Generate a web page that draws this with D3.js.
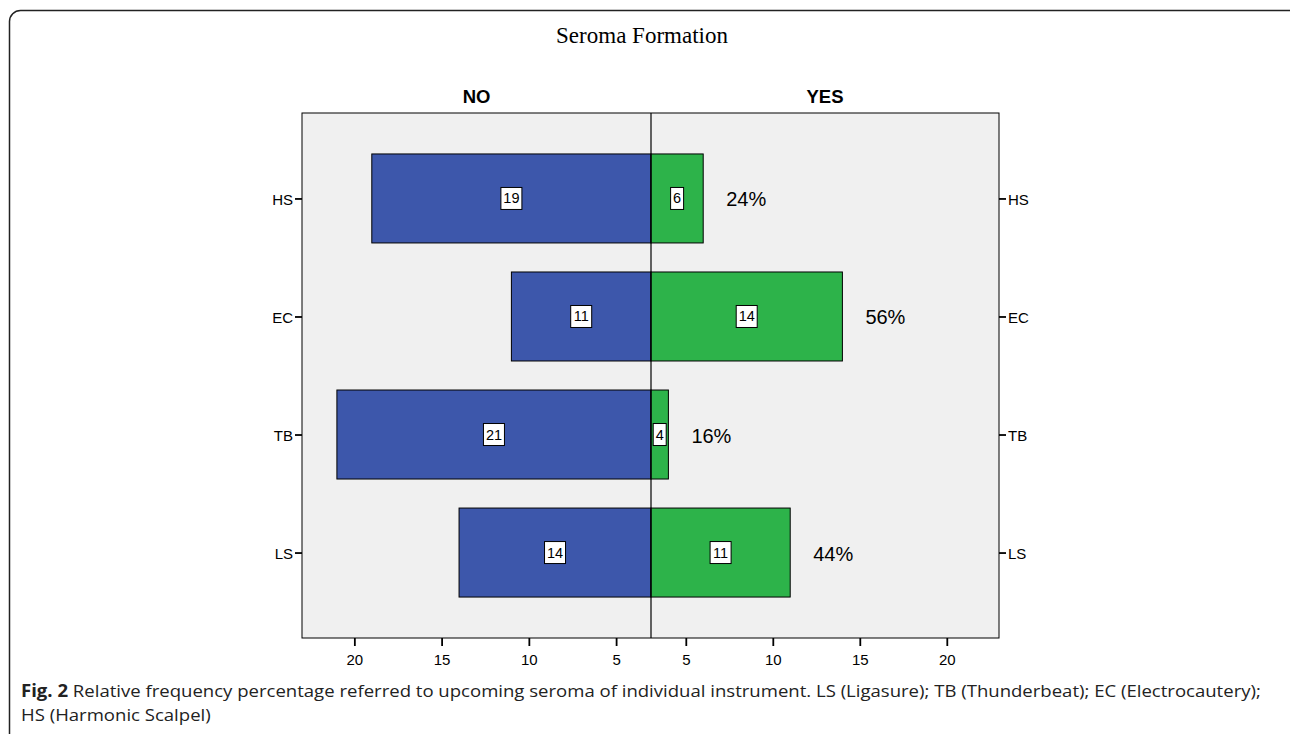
<!DOCTYPE html>
<html><head><meta charset="utf-8">
<script src="https://cdn.jsdelivr.net/npm/d3@7"></script>
<style>html,body{margin:0;padding:0;background:#fff;overflow:hidden}</style>
</head><body>
<svg id="c" width="1290" height="734"></svg>
<script>
const categories = ["HS", "EC", "TB", "LS"];
const noValues = [19, 11, 21, 14];
const yesValues = [6, 14, 4, 11];
const pctLabels = ["24%", "56%", "16%", "44%"];
const tickValues = [5, 10, 15, 20];
const groupLabels = ["NO", "YES"];
const title = "Seroma Formation";
const captionBold = "Fig. 2";
const captionLine1 = " Relative frequency percentage referred to upcoming seroma of individual instrument. LS (Ligasure); TB (Thunderbeat); EC (Electrocautery);";
const captionLine2 = "HS (Harmonic Scalpel)";

const svg = d3.select("#c");
const blue = "#3d57ab", green = "#2db34a";

// outer frame
svg.append("rect").attr("x", 9.5).attr("y", 10.5).attr("width", 1300).attr("height", 760)
  .attr("rx", 11).attr("fill", "none").attr("stroke", "#222").attr("stroke-width", 1.5);

const plotL = 302, plotR = 999, plotT = 113, plotB = 638, mid = 651;

const xL = d3.scaleLinear().domain([3, 23]).range([mid, plotL]);
const xR = d3.scaleLinear().domain([3, 23]).range([mid, plotR]);
const y = d3.scaleBand().domain(categories).range([plotT, plotB]).paddingInner(0.246).paddingOuter(0.347);

svg.append("text").attr("x", 642).attr("y", 43).attr("text-anchor", "middle")
  .attr("font-family", "Liberation Serif, Times New Roman, serif").attr("font-size", 23).text(title);

svg.append("rect").attr("x", plotL).attr("y", plotT).attr("width", plotR - plotL).attr("height", plotB - plotT)
  .attr("fill", "#f0f0f0").attr("stroke", "#000").attr("stroke-width", 1);

svg.selectAll(".grp").data(groupLabels).join("text")
  .attr("x", (d, i) => i === 0 ? (plotL + mid) / 2 : (mid + plotR) / 2)
  .attr("y", 103).attr("text-anchor", "middle")
  .attr("font-family", "Liberation Sans, Arial, sans-serif").attr("font-weight", "bold").attr("font-size", 18.5)
  .text(d => d);

const rows = categories.map((c, i) => ({c, no: noValues[i], yes: yesValues[i], pct: pctLabels[i]}));

svg.selectAll(".barNo").data(rows).join("rect")
  .attr("x", d => xL(d.no)).attr("y", d => y(d.c))
  .attr("width", d => xL(3) - xL(d.no)).attr("height", y.bandwidth())
  .attr("fill", blue).attr("stroke", "#000").attr("stroke-width", 1);
svg.selectAll(".barYes").data(rows).join("rect")
  .attr("x", xR(3)).attr("y", d => y(d.c))
  .attr("width", d => xR(d.yes) - xR(3)).attr("height", y.bandwidth())
  .attr("fill", green).attr("stroke", "#000").attr("stroke-width", 1);

// center line
svg.append("line").attr("x1", mid).attr("x2", mid).attr("y1", plotT).attr("y2", plotB)
  .attr("stroke", "#000").attr("stroke-width", 1.2);

function valueBox(cx, cy, txt) {
  const w = txt.length > 1 ? 21 : 13;
  svg.append("rect").attr("x", cx - w / 2).attr("y", cy - 11).attr("width", w).attr("height", 22)
    .attr("fill", "#fff").attr("stroke", "#000").attr("stroke-width", 1);
  svg.append("text").attr("x", cx).attr("y", cy + 5).attr("text-anchor", "middle")
    .attr("font-family", "Liberation Sans, Arial, sans-serif").attr("font-size", 14.5).text(txt);
}
rows.forEach(d => {
  const cy = y(d.c) + y.bandwidth() / 2;
  valueBox((xL(d.no) + xL(3)) / 2, cy, String(d.no));
  valueBox((xR(d.yes) + xR(3)) / 2, cy, String(d.yes));
});

svg.selectAll(".pct").data(rows).join("text")
  .attr("x", d => xR(d.yes) + 43).attr("y", d => y(d.c) + y.bandwidth() / 2 + 8)
  .attr("text-anchor", "middle")
  .attr("font-family", "Liberation Sans, Arial, sans-serif").attr("font-size", 20).text(d => d.pct);

const font = "Liberation Sans, Arial, sans-serif";
// Y axes
const yPts = d3.scalePoint().domain(categories).range([y(categories[0]) + y.bandwidth() / 2, y(categories[3]) + y.bandwidth() / 2]);
const yl = svg.append("g").attr("transform", `translate(${plotL},0)`)
  .call(d3.axisLeft(yPts).tickSize(7).tickPadding(2));
const yr = svg.append("g").attr("transform", `translate(${plotR},0)`)
  .call(d3.axisRight(yPts).tickSize(7).tickPadding(2));
[yl, yr].forEach(g => {
  g.select(".domain").remove();
  g.selectAll("line").attr("stroke", "#000").attr("stroke-width", 1.8);
  g.selectAll("text").attr("font-family", font).attr("font-size", 15).attr("fill", "#000").attr("dy", "0.4em");
});

// X axes
const xa1 = svg.append("g").attr("transform", `translate(0,${plotB})`)
  .call(d3.axisBottom(xL).tickValues(tickValues).tickSize(8).tickPadding(8));
const xa2 = svg.append("g").attr("transform", `translate(0,${plotB})`)
  .call(d3.axisBottom(xR).tickValues(tickValues).tickSize(8).tickPadding(8));
[xa1, xa2].forEach(g => {
  g.select(".domain").remove();
  g.selectAll("line").attr("stroke", "#000").attr("stroke-width", 1.8);
  g.selectAll("text").attr("font-family", font).attr("font-size", 15).attr("fill", "#000");
});

// caption
const capG = svg.append("g");
const cap = capG.append("text").attr("x", 0).attr("y", 697)
  .attr("font-family", "Open Sans, sans-serif").attr("font-size", 17).attr("fill", "#222");
cap.append("tspan").attr("font-weight", "bold").text(captionBold);
cap.append("tspan").text(captionLine1);
capG.append("text").attr("x", 0).attr("y", 721)
  .attr("font-family", "Open Sans, sans-serif").attr("font-size", 17).attr("fill", "#222").text(captionLine2);
const bb = cap.node().getBBox();
const s = bb.width > 0 ? 1241 / bb.width : 1;
capG.attr("transform", `translate(21,0) scale(${s},1)`);
</script>
</body></html>
